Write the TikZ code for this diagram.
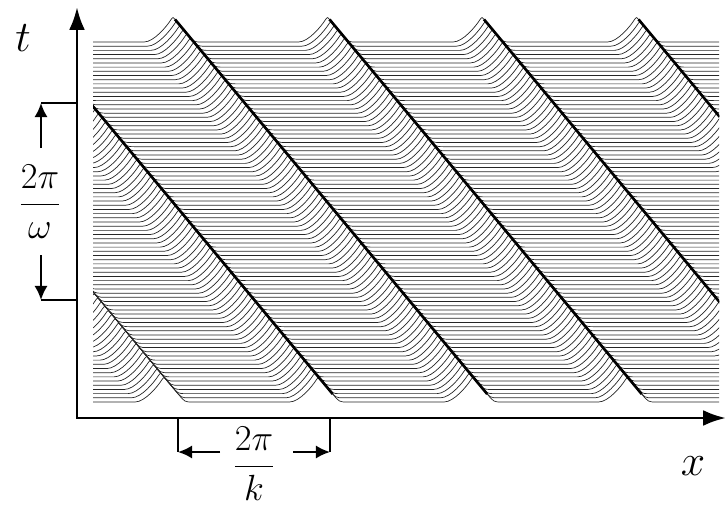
\documentclass[tikz,border=0pt]{standalone}
\usetikzlibrary{arrows.meta}

\begin{document}
\begin{tikzpicture}[x=0.02cm,y=-0.02cm,
  axis/.style={{Latex[length=13pt,width=9pt]}-{Latex[length=13pt,width=9pt]},line width=1.7pt},
  bracket/.style={-{Latex[length=8pt,width=7.5pt]},line width=1.2pt},
  tick/.style={line width=1.2pt},
  wave/.style={draw=black!85,line width=0.4pt},
  crest/.style={draw=black,line width=1.5pt},
  big/.style={font=\fontsize{34}{40}\selectfont},
  frac/.style={font=\fontsize{20}{24}\selectfont}]
\useasboundingbox (0,0) rectangle (727,507);

% wave parameters (px): line gap, crest height, rise width, slope, period
\def\wgap{4.186}\def\wamp{25}\def\wrise{29}\def\wslope{1.2}\def\wper{154.5}

% stacked time slices, each with a travelling crest
\begin{scope}
\clip (93,0) rectangle (719,410);
\foreach \j in {0,...,86}{
  \pgfmathsetmacro\yb{42+\j*\wgap}
  \pgfmathsetmacro\xp{mod(\j*\wgap/\wslope,\wper)+173-\wper}
  \draw[wave] (-20,\yb)
    foreach \n in {0,...,4}{
      -- ({\xp+\n*\wper-\wrise},\yb)
      .. controls ({\xp+\n*\wper-\wrise+10},\yb) and ({\xp+\n*\wper-6},{\yb-\wamp+9}) ..
      ({\xp+\n*\wper-2},{\yb-\wamp+2.6})
      .. controls ({\xp+\n*\wper},{\yb-\wamp}) .. ({\xp+\n*\wper+2},{\yb-\wamp+2.4})
      -- ({\xp+\n*\wper+(\wamp-8)/\wslope},{\yb-8})
      .. controls ({\xp+\n*\wper+\wamp/\wslope},\yb) .. ({\xp+\n*\wper+\wamp/\wslope+8},\yb)
    } -- (760,\yb);
}
% the crests pile up into dark diagonals
\foreach \n in {-1,...,3}
  \draw[crest] ({173+\n*\wper+2},19.4) -- ({173+\n*\wper+377/\wslope},394);
\end{scope}

% axes
\coordinate (O) at (77,418);
\coordinate (tEnd) at (77,7);
\coordinate (xEnd) at (726,418);
\draw[axis] (tEnd) -- (O) -- (xEnd);
\node[big] (tlab) at (23,38) {$t$};
\node[big] (xlab) at (693,466) {$x$};

% temporal period
\coordinate (wTop) at (41,103);
\coordinate (wBot) at (41,300);
\coordinate (wUp) at (41,148);
\coordinate (wDown) at (41,255);
\draw[tick] (wTop) -- (wTop -| O);
\draw[tick] (wBot) -- (wBot -| O);
\draw[bracket] (wUp) -- (wTop);
\draw[bracket] (wDown) -- (wBot);
\node[frac] (omlab) at (40,202) {$\displaystyle\frac{2\pi}{\omega}$};

% spatial period
\coordinate (kL) at (178,452);
\coordinate (kR) at (330,452);
\coordinate (kLs) at (220,452);
\coordinate (kRs) at (293,452);
\draw[tick] (kL |- O) -- (kL);
\draw[tick] (kR |- O) -- (kR);
\draw[bracket] (kLs) -- (kL);
\draw[bracket] (kRs) -- (kR);
\node[frac] (klab) at (254,464) {$\displaystyle\frac{2\pi}{k}$};
\end{tikzpicture}
\end{document}
